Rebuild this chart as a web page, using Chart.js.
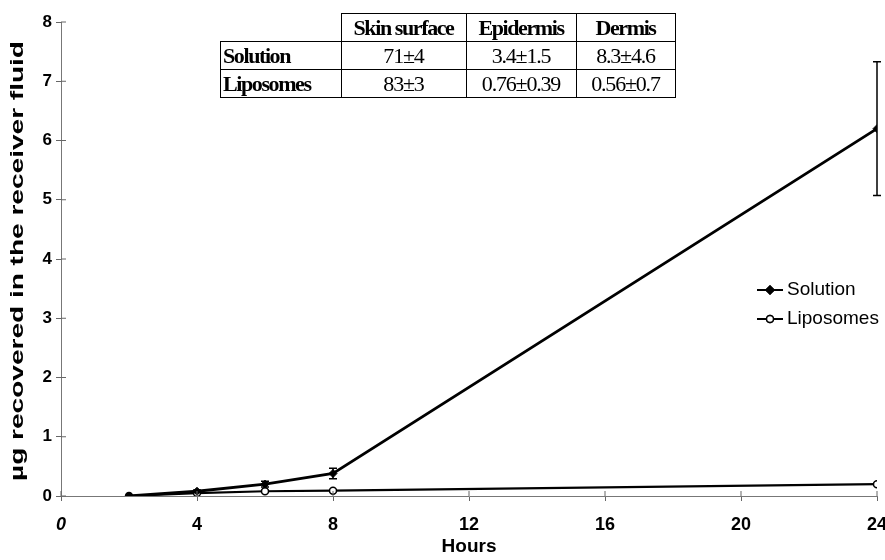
<!DOCTYPE html>
<html>
<head>
<meta charset="utf-8">
<script src="https://cdn.jsdelivr.net/npm/chart.js@4.4.1/dist/chart.umd.min.js"></script>
<style>
  html, body { margin: 0; padding: 0; background: #fff; }
  #wrap { position: relative; width: 885px; height: 560px; }
  #tbl { position: absolute; left: 220px; top: 13px; border-collapse: collapse;
         font-family: "Liberation Serif", "DejaVu Serif", serif; color: #000; }
  #tbl td { border: 1.5px solid #000; text-align: center; padding: 0; height: 27px;
            font-size: 22px; letter-spacing: -1.2px; white-space: nowrap; }
  #tbl td.hd { font-weight: bold; font-size: 22px; letter-spacing: -1.4px; }
  #tbl td.rh { text-align: left; padding-left: 2px; }
  #tbl td.blank { border: none; }
</style>
</head>
<body>
<div id="wrap">
  <canvas id="chart" width="885" height="560"></canvas>
  <table id="tbl"></table>
</div>
<script>
(function () {

  // data
  var hours = [2, 4, 6, 8, 24];
  var solution = [0, 0.08, 0.2, 0.38, 6.2];
  var solutionErr = [0, 0.02, 0.05, 0.09, 1.13];
  var liposomes = [0, 0.05, 0.08, 0.09, 0.2];

  var xTicks = [0, 4, 8, 12, 16, 20, 24];
  var yTicks = [0, 1, 2, 3, 4, 5, 6, 7, 8];

  var yTitle = '\u00b5g recovered in the receiver fluid';

  // inset table
  var tableCols = ['Skin surface', 'Epidermis', 'Dermis'];
  var tableRows = ['Solution', 'Liposomes'];
  var tableVals = [
    ['71\u00b14', '3.4\u00b11.5', '8.3\u00b14.6'],
    ['83\u00b13', '0.76\u00b10.39', '0.56\u00b10.7']
  ];
  var colWidths = [120, 124, 109, 98];

  var tbl = document.getElementById('tbl');
  var html = '<tr><td class="blank" style="width:' + colWidths[0] + 'px"></td>';
  tableCols.forEach(function (c, i) {
    html += '<td class="hd" style="width:' + colWidths[i + 1] + 'px">' + c + '</td>';
  });
  html += '</tr>';
  tableRows.forEach(function (r, j) {
    html += '<tr><td class="hd rh">' + r + '</td>';
    tableVals[j].forEach(function (v) { html += '<td>' + v + '</td>'; });
    html += '</tr>';
  });
  tbl.innerHTML = html;

  var pts = function (ys) {
    return hours.map(function (h, i) { return { x: h, y: ys[i] }; });
  };

  var font = '"Liberation Sans", Arial, sans-serif';

  var extras = {
    id: 'extras',
    afterDatasetsDraw: function (chart) {
      var c = chart.ctx, xs = chart.scales.x, ys = chart.scales.y;
      c.save();
      c.strokeStyle = '#000';
      c.lineWidth = 1.5;
      hours.forEach(function (h, i) {
        if (!solutionErr[i]) return;
        var px = xs.getPixelForValue(h);
        var top = ys.getPixelForValue(solution[i] + solutionErr[i]);
        var bot = ys.getPixelForValue(solution[i] - solutionErr[i]);
        c.beginPath();
        c.moveTo(px, top); c.lineTo(px, bot);
        c.moveTo(px - 4, top); c.lineTo(px + 4, top);
        c.moveTo(px - 4, bot); c.lineTo(px + 4, bot);
        c.stroke();
      });
      // ticks crossing into the plot area
      c.strokeStyle = '#666';
      c.lineWidth = 1;
      c.beginPath();
      xTicks.forEach(function (t) {
        var px = xs.getPixelForValue(t);
        c.moveTo(px, ys.bottom); c.lineTo(px, ys.bottom - 5);
      });
      yTicks.forEach(function (t) {
        var py = ys.getPixelForValue(t);
        c.moveTo(xs.left, py); c.lineTo(xs.left + 5, py);
      });
      c.stroke();
      c.restore();
    },
    afterDraw: function (chart) {
      var c = chart.ctx, ys = chart.scales.y;
      // y axis title, stretched like the original
      c.save();
      c.font = 'bold 19px ' + font;
      c.fillStyle = '#000';
      c.textAlign = 'center';
      c.textBaseline = 'middle';
      var w = c.measureText(yTitle).width;
      c.translate(18, (ys.top + ys.bottom) / 2 + 2);
      c.rotate(-Math.PI / 2);
      c.scale(440 / w, 1);
      c.fillText(yTitle, 0, 0);
      c.restore();

      var items = [
        { label: 'Solution', y: 290, style: 'rectRot', fill: '#000', r: 4 },
        { label: 'Liposomes', y: 319, style: 'circle', fill: '#fff', r: 3.5 }
      ];
      c.save();
      c.font = '19px ' + font;
      c.textBaseline = 'middle';
      items.forEach(function (it) {
        c.strokeStyle = '#000';
        c.lineWidth = 2;
        c.beginPath();
        c.moveTo(757, it.y); c.lineTo(783, it.y);
        c.stroke();
        c.fillStyle = it.fill;
        c.lineWidth = 1.5;
        Chart.helpers.drawPoint(c, { pointStyle: it.style, radius: it.r, borderWidth: 1.5 }, 770, it.y);
        c.fill();
        c.stroke();
        c.fillStyle = '#000';
        c.fillText(it.label, 787, it.y);
      });
      c.restore();
    }
  };

  var ctx = document.getElementById('chart').getContext('2d');

  new Chart(ctx, {
    type: 'line',
    data: {
      datasets: [{
        label: 'Solution',
        data: pts(solution),
        borderColor: '#000',
        backgroundColor: '#000',
        borderWidth: 2.8,
        pointStyle: 'rectRot',
        pointRadius: 4,
        pointBorderWidth: 1,
        tension: 0
      }, {
        label: 'Liposomes',
        data: pts(liposomes),
        borderColor: '#000',
        backgroundColor: '#fff',
        borderWidth: 2.2,
        pointStyle: 'circle',
        pointRadius: 3.5,
        pointBorderWidth: 1.5,
        tension: 0
      }]
    },
    options: {
      responsive: false,
      animation: false,
      layout: { padding: { top: 22, right: 8, left: 0, bottom: 0 } },
      plugins: { legend: { display: false }, tooltip: { enabled: false } },
      scales: {
        x: {
          type: 'linear',
          min: 0,
          max: 24,
          afterBuildTicks: function (s) { s.ticks = xTicks.map(function (v) { return { value: v }; }); },
          afterFit: function (s) { s.height = 64; s.paddingLeft = 0; s.paddingRight = 0; },
          grid: { drawOnChartArea: false, tickLength: 5, color: '#666' },
          border: { color: '#777', width: 1 },
          ticks: {
            color: '#000',
            padding: 13,
            maxRotation: 0,
            font: function (c) {
              return { family: font, size: 18, weight: 'bold',
                       style: c.tick && c.tick.value === 0 ? 'italic' : 'normal' };
            }
          },
          title: {
            display: true,
            text: 'Hours',
            color: '#000',
            padding: { top: 0, bottom: 2 },
            font: { family: font, size: 19, weight: 'bold' }
          }
        },
        y: {
          min: 0,
          max: 8,
          afterBuildTicks: function (s) { s.ticks = yTicks.map(function (v) { return { value: v }; }); },
          afterFit: function (s) { s.width = 61; s.paddingTop = 0; s.paddingBottom = 0; },
          grid: { drawOnChartArea: false, tickLength: 5, color: '#666' },
          border: { color: '#777', width: 1 },
          ticks: {
            color: '#000',
            padding: 4,
            font: { family: font, size: 17, weight: 'bold' }
          },
          title: { display: false }
        }
      }
    },
    plugins: [extras]
  });

})();
</script>
</body>
</html>
